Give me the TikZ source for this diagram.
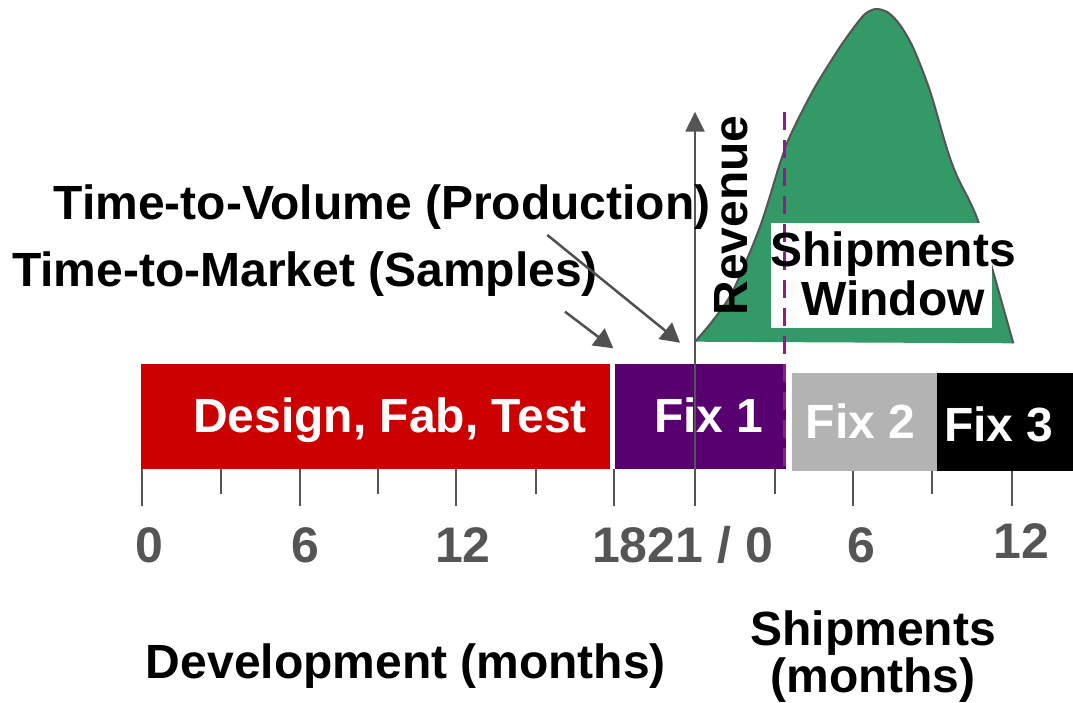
\documentclass[tikz,border=0pt]{standalone}
\usepackage{fontspec}
\setmainfont{Liberation Sans}
\usetikzlibrary{arrows.meta}
\definecolor{barred}{HTML}{CC0000}
\definecolor{barpurple}{HTML}{590070}
\definecolor{bargray}{HTML}{B3B3B3}
\definecolor{curvegreen}{HTML}{339966}
\definecolor{axisgray}{HTML}{555555}
\definecolor{dashpurple}{HTML}{8E1C8E}
\definecolor{pointergray}{HTML}{505050}

\begin{document}
\begin{tikzpicture}[x=1pt,y=-1pt,
  lbl/.style={inner sep=0pt, anchor=base, font=\fontsize{48}{48}\selectfont\bfseries},
  num/.style={lbl, text=axisgray, font=\fontsize{50}{50}\selectfont\bfseries},
  onbar/.style={lbl, text=white},
  longtick/.style={draw=axisgray, line width=2pt},
  pointer/.style={draw=pointergray, line width=2.5pt, -{Triangle[length=19pt,width=21pt]}},
  axisline/.style={draw=axisgray, line width=2.5pt, -{Triangle[length=20pt,width=19pt]}}]

\useasboundingbox (0,0) rectangle (1073,703);

% month ticks (long every 6 months, short in between)
\foreach \x in {142,299.6,455.9,613.5,694.6,853.4,1011.5}
  \draw[longtick] (\x,469) -- (\x,506);
\foreach \x in {221.4,378.3,535.9,774.6,932.2}
  \draw[longtick] (\x,469) -- (\x,494);

% phase bars
\fill[barred]    (141,364)   rectangle (610,469);
\fill[barpurple] (615,364)   rectangle (786,469);
\fill[bargray]   (791.7,372.7) rectangle (936.7,470.7);
\fill[black]     (936.7,372.7) rectangle (1073,470.7);

\node[onbar] (design) at (390,432) {Design, Fab, Test};
\node[onbar] (fixA) at (709,432) {Fix 1};
\node[onbar] (fixB) at (860.5,438) {Fix 2};
\node[onbar] (fixC) at (999,441) {Fix 3};

% revenue axis
\coordinate (revBase) at (695,506);
\coordinate (revTop) at (695,111.7);
\draw[axisline] (revBase) -- (revTop);

% revenue curve over the shipments window
\def\revcurve{(695,341.7) (713.3,320) (733.3,290) (760,226.7) (780,163.3)
  (790,136) (813.3,90) (836.7,52) (852,30) (865,14) (876,9) (888,12.5)
  (900,25) (913.3,48) (930,91) (946.7,148) (956.7,175.5) (970,202)
  (978.3,221.7) (991.7,266.7) (1013.3,343.3)}
\fill[curvegreen] plot[smooth, tension=0.5] coordinates \revcurve -- cycle;
\draw[axisgray, line width=2pt] plot[smooth, tension=0.5] coordinates \revcurve;

% label box inside the curve
\fill[white] (771,222.7) rectangle (991.7,327.7);

% end of Fix 1 marker
\coordinate (markTop) at (784.5,112);
\coordinate (markBottom) at (784.5,469);
\draw[dashpurple, line width=2.5pt, dash pattern=on 18pt off 10pt] (markTop) -- (markBottom);

\node[lbl, rotate=90] (revenue) at (747,215.5) {Revenue};
\node[lbl] (winA) at (893,267) {Shipments};
\node[lbl] (winB) at (893,315) {Window};

% milestone labels and pointers
\node[lbl] (ttv) at (382,220) {Time-to-Volume (Production)};
\node[lbl] (ttm) at (305,287) {Time-to-Market (Samples)};
\coordinate (ttvFrom) at (547.3,235);
\coordinate (ttvTip) at (680,342.7);
\coordinate (ttmFrom) at (565,311.7);
\coordinate (ttmTip) at (613.3,348.3);
\draw[pointer] (ttvFrom) -- (ttvTip);
\draw[pointer] (ttmFrom) -- (ttmTip);

% axis numbers
\node[num] (n0) at (149.5,562) {0};
\node[num] (n6) at (305.5,562) {6};
\node[num] (n12) at (463,562) {12};
\node[num] (nmid) at (682.5,562) {1821 / 0};
\node[num] (s6) at (861,562) {6};
\node[num] (s12) at (1021.5,558) {12};

% axis titles
\node[lbl] (devTitle) at (406,678) {Development (months)};
\node[lbl] (shipA) at (873,645) {Shipments};
\node[lbl] (shipB) at (873,692) {(months)};
\end{tikzpicture}
\end{document}
